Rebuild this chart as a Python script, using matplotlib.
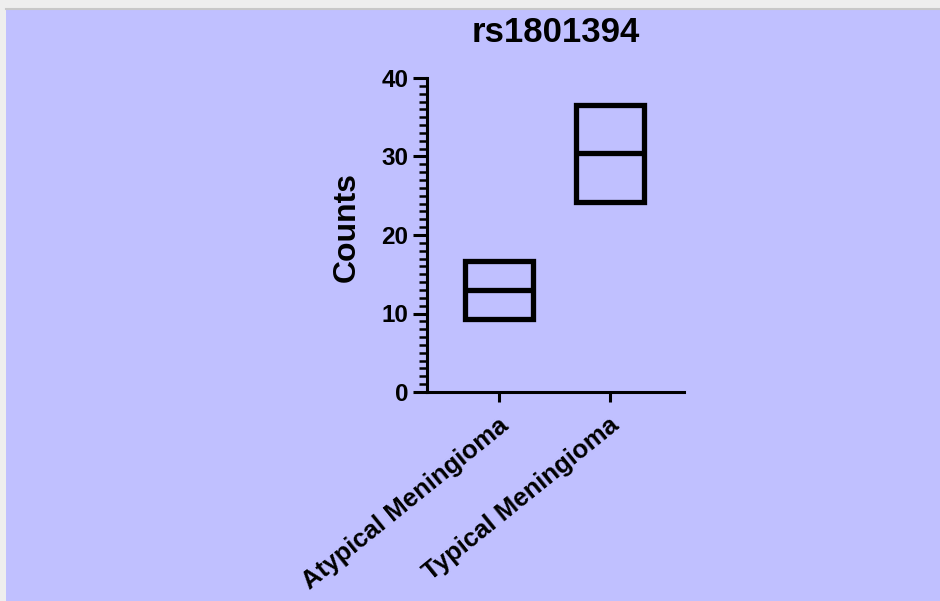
import matplotlib
matplotlib.use("Agg")
import matplotlib.pyplot as plt
import matplotlib.transforms as mtransforms
from matplotlib.patches import Rectangle
from matplotlib.lines import Line2D
from matplotlib.ticker import MultipleLocator

categories = ["Atypical Meningioma", "Typical Meningioma"]
mins = [9.3, 24.2]
maxs = [16.7, 36.6]
medians = [13.0, 30.4]
yticks = [0, 10, 20, 30, 40]
title = "rs1801394"
ylabel = "Counts"

plt.rcParams['font.family'] = ['Liberation Sans', 'DejaVu Sans']
bg = '#C0C0FF'

fig = plt.figure(figsize=(9.4, 6.01), dpi=100, facecolor=bg)
W, H = 940, 601

# screenshot frame (gray band top, thin strip left)
fig.patches.append(Rectangle((0, 1 - 9 / H), 1, 9 / H, transform=fig.transFigure,
                             facecolor='#EEEEEE', edgecolor='none', zorder=0))
fig.patches.append(Rectangle((0, 0), 6 / W, 1, transform=fig.transFigure,
                             facecolor='#EEEEEE', edgecolor='none', zorder=0))
fig.lines.append(Line2D([6 / W, 1], [1 - 9 / H, 1 - 9 / H], transform=fig.transFigure,
                        color='#C8C8C8', lw=1.5))

left, right = 427 / W, 684 / W
bottom, top = 1 - 392 / H, 1 - 78 / H
ax = fig.add_axes([left, bottom, right - left, top - bottom])
ax.set_facecolor(bg)

x = list(range(len(categories)))
w = 0.61
ax.bar(x, [mx - mn for mx, mn in zip(maxs, mins)], bottom=mins, width=w,
       fill=False, edgecolor='black', linewidth=3.8, joinstyle='miter', zorder=3)
ax.hlines(medians, [xi - w / 2 for xi in x], [xi + w / 2 for xi in x],
          colors='black', linewidth=3.8, zorder=3)

ax.set_xlim(-0.65, 1.67)
ax.set_ylim(0, 40)
ax.set_yticks(yticks)
ax.yaxis.set_minor_locator(MultipleLocator(1))

for s in ['top', 'right']:
    ax.spines[s].set_visible(False)
for s in ['left', 'bottom']:
    ax.spines[s].set_linewidth(2.2)

ax.tick_params(axis='y', which='major', length=10, width=2.2, pad=3.5,
               labelsize=17.5)
ax.tick_params(axis='y', which='minor', length=5.8, width=1.8)
ax.tick_params(axis='x', which='major', length=7.5, width=2.2, pad=3.5)

for lab in ax.get_yticklabels():
    lab.set_fontweight('bold')

ax.set_xticks(x)
ax.set_xticklabels(categories, rotation=39, ha='right', va='top',
                   rotation_mode='anchor', fontsize=18.5, fontweight='bold')
offset = mtransforms.ScaledTranslation(-1 / 100, -6 / 100, fig.dpi_scale_trans)
for lab in ax.get_xticklabels():
    lab.set_transform(lab.get_transform() + offset)

ax.set_ylabel(ylabel, fontsize=23, fontweight='bold')
ax.yaxis.set_label_coords((362 - 427) / 257, (392 - 227) / 314)

fig.text((427 + 684) / 2 / W, 1 - 42 / H, title, ha='center', va='baseline',
         fontsize=25, fontweight='bold')

fig.savefig('out.png', dpi=100, facecolor=bg)
